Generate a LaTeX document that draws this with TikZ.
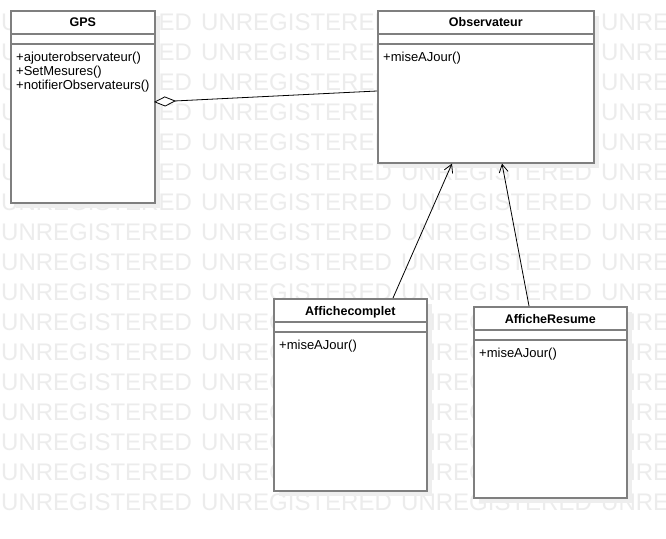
\documentclass[tikz,border=0pt]{standalone}
\usepackage{fontspec}
\setmainfont{Liberation Sans}
\usetikzlibrary{arrows.meta,calc}
\definecolor{clsgray}{HTML}{7F7F7F}
\definecolor{wmgray}{HTML}{ECECEC}
\definecolor{shadegray}{HTML}{EEEEEE}
\newcommand\umlbox[8]{% name, x, y, w, h, title, methods, text offset
  \fill[shade] (#2+6,#3+6) rectangle ++(#4,#5);
  \node[cls, minimum width=#4pt, minimum height=#5pt] (#1) at (#2,#3) {};
  \draw[div] ($(#1.north west)+(0,24)$) -- ($(#1.north east)+(0,24)$);
  \draw[div] ($(#1.north west)+(0,34)$) -- ($(#1.north east)+(0,34)$);
  \node[ttl] (#1-t) at ($(#1.north)+(0,17)$) {#6};
  \node[meth] (#1-m) at ($(#1.north west)+(6,#8)$) {#7};
}
\begin{document}
\begin{tikzpicture}[x=1pt,y=-1pt,
  wm/.style={text=wmgray, font=\fontsize{24}{24}\selectfont, anchor=west, inner sep=0pt},
  cls/.style={draw=clsgray, line width=1.6pt, fill=white, anchor=north west, inner sep=0pt},
  shade/.style={fill=shadegray, draw=none},
  ttl/.style={font=\bfseries\fontsize{12.5}{14}\selectfont, inner sep=0pt, anchor=base},
  meth/.style={font=\fontsize{13}{14}\selectfont, anchor=north west, inner sep=0pt, align=left},
  div/.style={draw=clsgray, line width=1.6pt},
  conn/.style={draw=black, line width=0.8pt},
]
\useasboundingbox (0,0) rectangle (666,538);
\fill[white] (0,0) rectangle (666,538);
\begin{scope}
\clip (0,0) rectangle (666,538);
\foreach \r in {0,...,16}{
  \foreach \c in {0,...,3}{
    \node[wm] (wm-\r-\c) at (\c*200+1, 22+\r*30) {UNREGISTERED};
  }
}
\end{scope}

\umlbox{gps}{10}{10}{144}{192}{GPS}{+ajouterobservateur()\\+SetMesures()\\+notifierObservateurs()}{41.5}
\umlbox{obs}{377}{10}{216}{152}{Observateur}{+miseAJour()}{41.5}
\umlbox{comp}{273}{298}{153}{192}{Affichecomplet}{+miseAJour()}{42}
\umlbox{res}{473}{306}{153}{191}{AfficheResume}{+miseAJour()}{42}

\coordinate (gpsA) at ($(gps.north west)+(144,92)$);
\coordinate (obsA) at ($(obs.north west)+(0,81)$);
\coordinate (obsB1) at ($(obs.south west)+(75,0)$);
\coordinate (obsB2) at ($(obs.south west)+(125,0)$);
\coordinate (compT) at ($(comp.north west)+(120,0)$);
\coordinate (resT) at ($(res.north west)+(56,0)$);

\draw[conn, {Diamond[fill=white, length=22pt, width=10pt]}-] (gpsA) -- (obsA);
\draw[conn, -{Straight Barb[length=8pt, width=9pt]}] (compT) -- (obsB1);
\draw[conn, -{Straight Barb[length=8pt, width=9pt]}] (resT) -- (obsB2);
\end{tikzpicture}
\end{document}
